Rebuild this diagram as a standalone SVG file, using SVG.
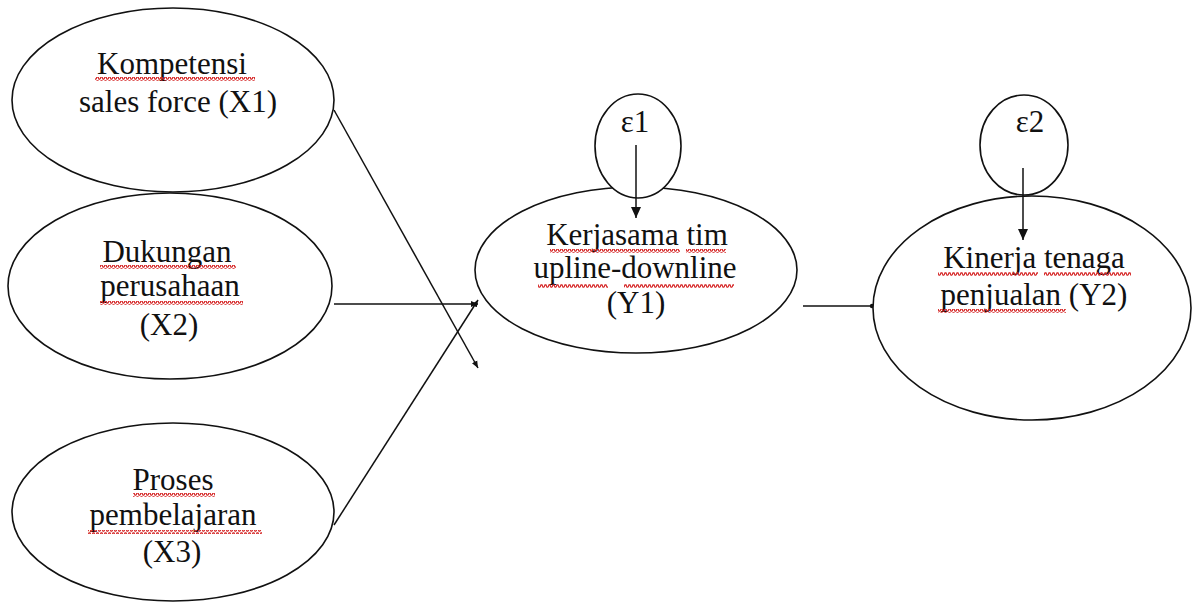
<svg xmlns="http://www.w3.org/2000/svg" width="1193" height="604" viewBox="0 0 1193 604">
  <style>
    .node ellipse { fill: #ffffff; stroke: #111111; stroke-width: 1.6; }
    .label { font-family: "Liberation Serif", "Times New Roman", serif; font-size: 31px; fill: #111111; text-anchor: middle; }
    .edge { stroke: #111111; stroke-width: 1.5; fill: none; }
    .squiggle { fill: url(#wave); }
  </style>
  <defs>
    <marker id="arrowSmall" markerWidth="8" markerHeight="8" refX="7" refY="4" orient="auto" markerUnits="userSpaceOnUse">
      <path d="M0,1 L7,4 L0,7 Z" fill="#111111"/>
    </marker>
    <marker id="arrowLarge" markerWidth="12" markerHeight="12" refX="11" refY="6" orient="auto" markerUnits="userSpaceOnUse">
      <path d="M0,1 L11,6 L0,11 Z" fill="#111111"/>
    </marker>
    <marker id="dot" markerWidth="6" markerHeight="6" refX="3" refY="3" orient="auto" markerUnits="userSpaceOnUse">
      <circle cx="3" cy="3" r="2.2" fill="#111111"/>
    </marker>
    <!-- red spell-check wave -->
    <pattern id="wave" width="4" height="4" patternUnits="userSpaceOnUse">
      <polyline points="0,3.2 1,0.8 2,0.8 3,3.2 4,3.2" fill="none" stroke="#d42020" stroke-width="1.2"/>
    </pattern>
  </defs>

  <!-- connectors -->
  <g id="connectors">
    <line class="edge" x1="334" y1="110" x2="478" y2="368" marker-end="url(#arrowSmall)"/>
    <line class="edge" x1="334" y1="304" x2="478" y2="304" marker-end="url(#arrowSmall)"/>
    <line class="edge" x1="334" y1="525" x2="478" y2="300" marker-end="url(#arrowSmall)"/>
    <line class="edge" x1="803" y1="306" x2="872" y2="306" marker-end="url(#dot)"/>
  </g>

  <g id="x1" class="node">
    <ellipse cx="173" cy="100" rx="161" ry="92"/>
    <text class="label" x="172" y="74">Kompetensi</text>
    <text class="label" x="178" y="112">sales force (X1)</text>
    <rect class="squiggle" x="95" y="77" width="160" height="4"/>
  </g>

  <g id="x2" class="node">
    <ellipse cx="170" cy="286" rx="162" ry="93"/>
    <text class="label" x="167" y="262">Dukungan</text>
    <text class="label" x="170" y="296">perusahaan</text>
    <text class="label" x="169" y="335">(X2)</text>
    <rect class="squiggle" x="100" y="265" width="136" height="4"/>
    <rect class="squiggle" x="100" y="301" width="143" height="4"/>
  </g>

  <g id="x3" class="node">
    <ellipse cx="173" cy="512" rx="161" ry="89"/>
    <text class="label" x="173" y="490">Proses</text>
    <text class="label" x="173" y="525">pembelajaran</text>
    <text class="label" x="172" y="562">(X3)</text>
    <rect class="squiggle" x="133" y="493" width="82" height="4"/>
    <rect class="squiggle" x="88" y="530" width="174" height="4"/>
  </g>

  <g id="y1" class="node">
    <ellipse cx="636" cy="270" rx="161" ry="83"/>
    <text class="label" x="637" y="245">Kerjasama tim</text>
    <text class="label" x="635" y="278">upline-downline</text>
    <text class="label" x="636" y="313">(Y1)</text>
    <rect class="squiggle" x="550" y="249" width="130" height="4"/>
    <rect class="squiggle" x="686" y="249" width="40" height="4"/>
    <rect class="squiggle" x="538" y="284" width="70" height="4"/>
    <rect class="squiggle" x="624" y="284" width="110" height="4"/>
  </g>

  <g id="y2" class="node">
    <ellipse cx="1032" cy="308" rx="159" ry="112"/>
    <text class="label" x="1034" y="268">Kinerja tenaga</text>
    <text class="label" x="1034" y="305">penjualan (Y2)</text>
    <rect class="squiggle" x="938" y="272" width="100" height="4"/>
    <rect class="squiggle" x="1044" y="272" width="87" height="4"/>
    <rect class="squiggle" x="938" y="309" width="128" height="4"/>
  </g>

  <g id="e1" class="node">
    <ellipse cx="638" cy="146" rx="43" ry="52"/>
    <text class="label" x="635" y="132">ε1</text>
    <line class="edge" x1="636" y1="145" x2="636" y2="218" marker-end="url(#arrowLarge)"/>
  </g>

  <g id="e2" class="node">
    <ellipse cx="1024" cy="145" rx="44" ry="50"/>
    <text class="label" x="1030" y="132">ε2</text>
    <line class="edge" x1="1023" y1="168" x2="1023" y2="240" marker-end="url(#arrowLarge)"/>
  </g>
</svg>
